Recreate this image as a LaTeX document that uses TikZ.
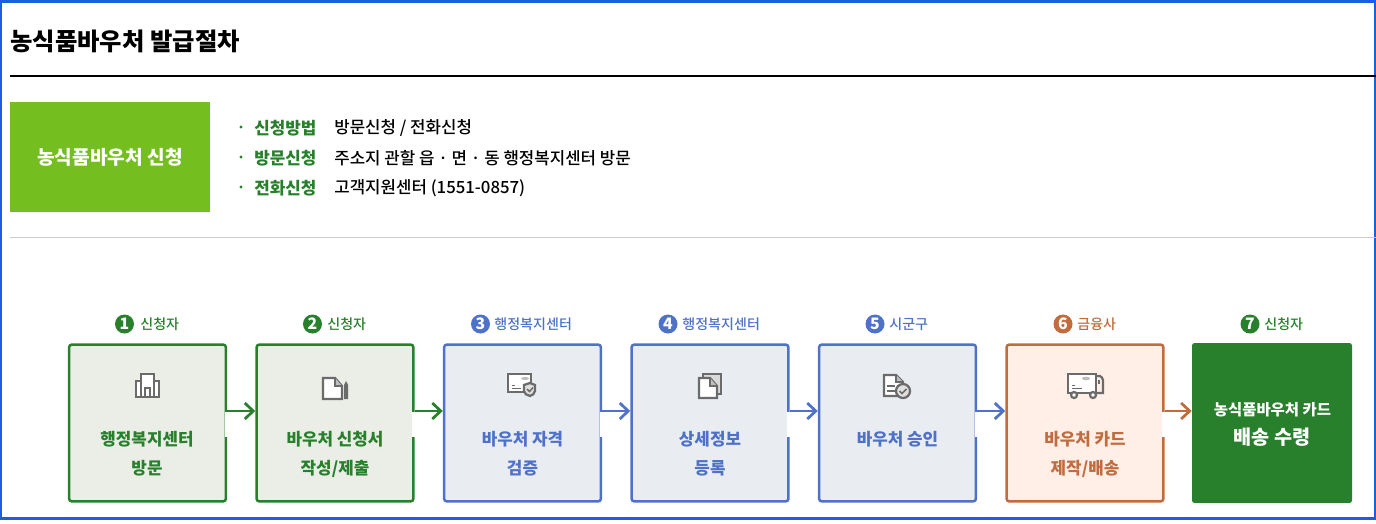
\documentclass[tikz,border=0pt]{standalone}
\usepackage{fontspec}
\setmainfont{Noto Sans CJK KR}
\newfontfamily\medfont{Noto Sans CJK KR Medium}
\usetikzlibrary{arrows.meta}
\definecolor{framecol}{HTML}{1B5FE0}
\definecolor{leafcol}{HTML}{74BE1F}
\definecolor{greencol}{HTML}{28802C}
\definecolor{greenbg}{HTML}{EAEEE7}
\definecolor{bluecol}{HTML}{4F72C8}
\definecolor{bluebg}{HTML}{E9EDF2}
\definecolor{browncol}{HTML}{C06C3E}
\definecolor{brownbg}{HTML}{FFEFE7}
\definecolor{iconcol}{HTML}{6B6B6B}
\tikzset{
    stepbox/.style={draw, line width=0.05cm, rounded corners=0.06cm, minimum width=3.14cm, minimum height=3.14cm, inner sep=0pt},
    greenbox/.style={stepbox, draw=greencol, fill=greenbg},
    bluebox/.style={stepbox, draw=bluecol, fill=bluebg},
    brownbox/.style={stepbox, draw=browncol, fill=brownbg},
    steptext/.style={font=\fontsize{9.6pt}{11pt}\selectfont\bfseries, inner sep=0pt},
    whotext/.style={font=\fontsize{8pt}{10pt}\selectfont\medfont, inner sep=0pt},
    badge/.style={circle, minimum size=0.38cm, inner sep=0pt, text=white, font=\fontsize{9pt}{9pt}\selectfont\bfseries},
    flow/.style={line width=0.055cm, -{Straight Barb[length=0.17cm,width=0.32cm,line width=0.055cm]}},
    gapcut/.style={fill=white, draw=none, minimum width=0.09cm, minimum height=0.5cm, inner sep=0pt},
    infohead/.style={font=\fontsize{9.6pt}{11pt}\selectfont\bfseries, text=greencol, inner sep=0pt, anchor=west},
    infotext/.style={font=\fontsize{9.55pt}{11pt}\selectfont\medfont, inner sep=0pt, anchor=west},
    iconline/.style={draw=iconcol, line width=0.045cm},
}
\begin{document}
\begin{tikzpicture}[x=0.02cm,y=-0.02cm]
    \useasboundingbox (0,0) rectangle (1376,524);
    \draw[framecol, line width=0.05cm] (1,1.5) rectangle (1375,518.5);

    \node [inner sep=0pt, anchor=west, font=\fontsize{13.85pt}{15pt}\selectfont\bfseries] (title) at (10,41) {농식품바우처 발급절차};
    \coordinate (ruleA) at (10,75.5);
    \coordinate (ruleB) at (1376,75.5);
    \draw[line width=0.04cm] (ruleA) -- (ruleB);
    \coordinate (ruleC) at (10,237.5);
    \coordinate (ruleD) at (1376,237.5);
    \draw[black!20, line width=0.02cm] (ruleC) -- (ruleD);

    \node [fill=leafcol, text=white, minimum width=4cm, minimum height=2.2cm, inner sep=0pt, font=\fontsize{10.9pt}{12pt}\selectfont\bfseries] (apply) at (110,157) {농식품바우처 신청};

    \node [infohead] (headA) at (254,128) {신청방법};
    \node [infohead] (headB) at (254,158) {방문신청};
    \node [infohead] (headC) at (254,188) {전화신청};
    \fill[greencol] (241,127) circle (1.7);
    \fill[greencol] (241,157) circle (1.7);
    \fill[greencol] (241,187) circle (1.7);
    \node [infotext] (textA) at (334,128) {방문신청 / 전화신청};
    \node [infotext] (textB) at (334,158) {주소지 관할 읍 · 면 · 동 행정복지센터 방문};
    \node [infotext] (textC) at (334,188) {고객지원센터 (1551-0857)};

    \node [greenbox] (boxA) at (147.5,423) {};
    \node [greenbox] (boxB) at (335,423) {};
    \node [bluebox] (boxC) at (522.5,423) {};
    \node [bluebox] (boxD) at (710,423) {};
    \node [bluebox] (boxE) at (897.5,423) {};
    \node [brownbox] (boxF) at (1085,423) {};
    \node [fill=greencol, rounded corners=0.05cm, minimum width=3.2cm, minimum height=3.2cm, inner sep=0pt] (boxG) at (1272,423) {};

    \node [gapcut] at (boxA.east |- 0,424) {};
    \node [gapcut] at (boxB.east |- 0,424) {};
    \node [gapcut] at (boxC.east |- 0,424) {};
    \node [gapcut] at (boxD.east |- 0,424) {};
    \node [gapcut] at (boxE.east |- 0,424) {};
    \node [gapcut] at (boxF.east |- 0,424) {};

    \draw[flow, greencol] (boxA.east |- 0,411) -- (boxB.west |- 0,411);
    \draw[flow, greencol] (boxB.east |- 0,411) -- (boxC.west |- 0,411);
    \draw[flow, bluecol] (boxC.east |- 0,411) -- (boxD.west |- 0,411);
    \draw[flow, bluecol] (boxD.east |- 0,411) -- (boxE.west |- 0,411);
    \draw[flow, bluecol] (boxE.east |- 0,411) -- (boxF.west |- 0,411);
    \draw[flow, browncol] (boxF.east |- 0,411) -- (boxG.west |- 0,411);

    \node [badge, fill=greencol] (numA) at (124.5,324) {1};
    \node [badge, fill=greencol] (numB) at (312.5,324) {2};
    \node [badge, fill=bluecol] (numC) at (480.5,324) {3};
    \node [badge, fill=bluecol] (numD) at (668,324) {4};
    \node [badge, fill=bluecol] (numE) at (875,324) {5};
    \node [badge, fill=browncol] (numF) at (1063,324) {6};
    \node [badge, fill=greencol] (numG) at (1250,324) {7};

    \node [whotext, text=greencol, anchor=west] (whoA) at (140,324) {신청자};
    \node [whotext, text=greencol, anchor=west] (whoB) at (327,324) {신청자};
    \node [whotext, text=bluecol, anchor=west] (whoC) at (494,324) {행정복지센터};
    \node [whotext, text=bluecol, anchor=west] (whoD) at (682,324) {행정복지센터};
    \node [whotext, text=bluecol, anchor=west] (whoE) at (889,324) {시군구};
    \node [whotext, text=browncol, anchor=west] (whoF) at (1077,324) {금융사};
    \node [whotext, text=greencol, anchor=west] (whoG) at (1264,324) {신청자};

    \node [steptext, text=greencol] (labelA) at (147,439) {행정복지센터};
    \node [steptext, text=greencol] (labelAb) at (147,468.5) {방문};
    \node [steptext, text=greencol] (labelB) at (335,439) {바우처 신청서};
    \node [steptext, text=greencol] (labelBb) at (335,468.5) {작성/제출};
    \node [steptext, text=bluecol] (labelC) at (522.5,439) {바우처 자격};
    \node [steptext, text=bluecol] (labelCb) at (522.5,468.5) {검증};
    \node [steptext, text=bluecol] (labelD) at (710,439) {상세정보};
    \node [steptext, text=bluecol] (labelDb) at (710,468.5) {등록};
    \node [steptext, text=bluecol] (labelE) at (897.5,439) {바우처 승인};
    \node [steptext, text=browncol] (labelF) at (1085,439) {바우처 카드};
    \node [steptext, text=browncol] (labelFb) at (1085,468.5) {제작/배송};
    \node [inner sep=0pt, text=white, font=\fontsize{8.8pt}{10pt}\selectfont\bfseries] (labelG) at (1272.5,410) {농식품바우처 카드};
    \node [inner sep=0pt, text=white, font=\fontsize{11.2pt}{13pt}\selectfont\bfseries] (labelGb) at (1272,437) {배송 수령};

    % icons
    \draw[iconline, fill=white] (136,397) rectangle (159,381);
    \draw[iconline, fill=white] (141,397) rectangle (154,374);
    \draw[iconline] (145,397) -- (145,388) -- (150,388) -- (150,397);

    \draw[iconline, fill=white] (323,378) -- (335,378) -- (342,386) -- (342,399) -- (323,399) -- cycle;
    \fill[black!25] (335,378) -- (342,386) -- (335,386) -- cycle;
    \draw[iconline] (335,378) -- (335,386) -- (342,386);
    \fill[iconcol] (344,385) -- (346,381) -- (348,385) -- (348,399) -- (344,399) -- cycle;

    \draw[iconline, fill=white] (508,374) rectangle (531,392);
    \fill[black!25] (525,378.5) ellipse (4 and 1.6);
    \draw[iconline, line width=0.02cm] (512,385) -- (515,385);
    \draw[iconline, line width=0.02cm] (512,388) -- (521,388);
    \draw[iconline, fill=black!12] (524,385) -- (530,383) -- (535,385) -- (535,391) .. controls (535,394) and (532,395) .. (530,396) .. controls (527,395) and (524,394) .. (524,391) -- cycle;
    \draw[iconcol, line width=0.03cm] (527,389) -- (529.5,391.5) -- (533,387.5);

    \draw[iconline, fill=black!15] (703,374) rectangle (721,394);
    \draw[iconline, fill=white] (699,378) -- (710,378) -- (717,386) -- (717,398) -- (699,398) -- cycle;
    \fill[black!25] (710,378) -- (717,386) -- (710,386) -- cycle;
    \draw[iconline] (710,378) -- (710,386) -- (717,386);

    \draw[iconline, fill=white] (884,375) -- (896,375) -- (903,382) -- (903,396) -- (884,396) -- cycle;
    \fill[black!25] (896,375) -- (903,382) -- (896,382) -- cycle;
    \draw[iconline] (896,375) -- (896,382) -- (903,382);
    \draw[iconline] (887,386) -- (895,386);
    \draw[iconline] (887,391) -- (895,391);
    \draw[iconline, fill=black!12] (903,391) circle (7);
    \draw[iconcol, line width=0.03cm] (899.5,391) -- (902,393.5) -- (906.5,389);

    \draw[iconline, fill=white] (1068,374) rectangle (1096,393);
    \fill[black!25] (1086,378.5) ellipse (4 and 1.8);
    \draw[iconline, line width=0.02cm] (1072,385) -- (1075,385);
    \draw[iconline, line width=0.02cm] (1072,388) -- (1082,388);
    \draw[iconline] (1096,376) -- (1100,376) .. controls (1102,377) and (1102,378) .. (1103,380) -- (1103,393) -- (1096,393);
    \fill[iconcol] (1098,380) -- (1100,380) -- (1100,384) -- (1098,384) -- cycle;
    \draw[iconline, fill=white] (1074,395) circle (3);
    \draw[iconline, fill=white] (1093,395) circle (3);
\end{tikzpicture}
\end{document}
